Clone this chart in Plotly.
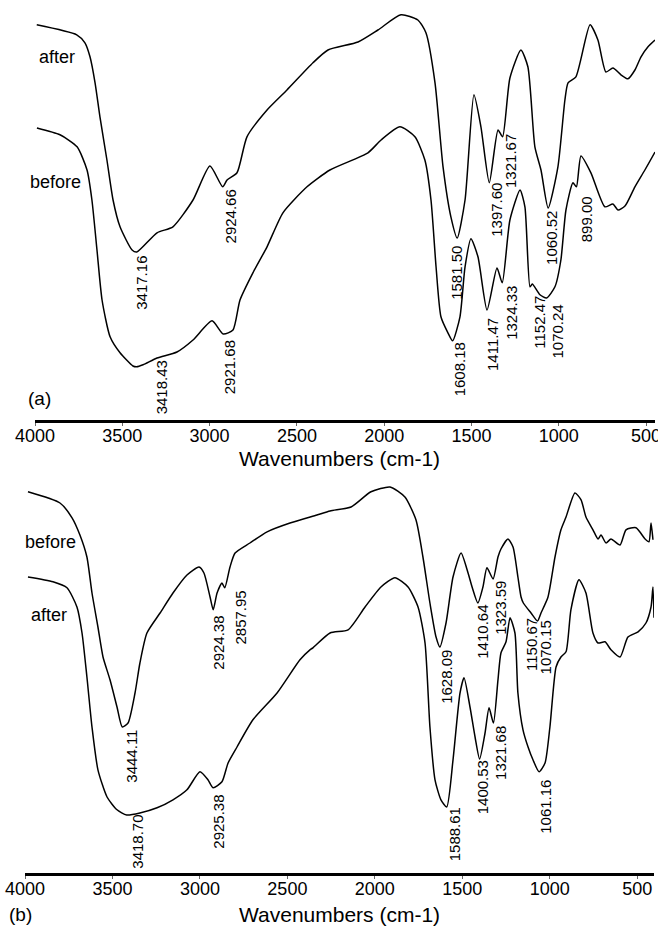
import numpy as np
import plotly.graph_objects as go

# ---------------- data (wavenumber cm-1, transmittance in arbitrary offset units) -------------
a_after_wn = [3990, 3761, 3714, 3685, 3656, 3628, 3588, 3553, 3513, 3444, 3417, 3301, 3210, 3095, 2998, 2925, 2900, 2843, 2786, 2671,
              2557, 2408, 2322, 2150, 2036, 1904, 1807, 1761, 1709, 1663, 1618, 1582, 1537, 1486, 1446, 1398, 1348, 1322, 1280, 1217,
              1177, 1137, 1102, 1061, 1005, 965, 947, 902, 821, 776, 730, 690, 644, 604, 564, 529, 489, 449]
a_after_T = [98.8, 96.3, 94.3, 90.8, 84.3, 75.8, 65.0, 55.0, 48.3, 42.5, 42.0, 46.8, 48.3, 55.0, 63.5, 58.3, 60.0, 61.8, 70.8, 77.5,
             82.5, 89.3, 92.5, 94.5, 97.5, 101.3, 100.0, 96.8, 84.3, 63.3, 50.8, 45.5, 55.0, 81.3, 73.3, 59.3, 72.5, 70.8, 85.5, 92.5,
             88.3, 68.3, 62.5, 53.0, 63.3, 80.0, 84.3, 85.8, 98.8, 95.0, 87.0, 88.0, 86.3, 85.3, 87.5, 90.8, 93.3, 95.0]

a_before_wn = [3989, 3857, 3759, 3702, 3674, 3645, 3616, 3570, 3513, 3439, 3418, 3381, 3301, 3187, 3095, 2986, 2922, 2866, 2826, 2752,
               2671, 2580, 2442, 2311, 2093, 2018, 1910, 1824, 1767, 1732, 1703, 1675, 1635, 1608, 1566, 1537, 1503, 1463, 1411, 1354,
               1324, 1280, 1222, 1194, 1165, 1152, 1108, 1070, 1022, 988, 959, 919, 899, 873, 816, 736, 690, 661, 621, 564,
               507, 449]
a_before_T = [73.0, 71.3, 68.3, 62.5, 55.0, 42.5, 30.0, 20.8, 16.8, 13.5, 13.3, 13.8, 15.5, 17.0, 20.0, 24.8, 21.5, 22.5, 30.0, 36.8,
              43.3, 51.8, 58.3, 62.5, 66.8, 70.0, 73.3, 70.8, 65.0, 55.0, 38.3, 25.8, 21.8, 19.8, 25.8, 38.3, 45.3, 40.8, 27.5, 38.0,
              34.3, 50.0, 57.5, 53.3, 33.3, 34.0, 31.3, 30.5, 33.3, 40.0, 52.5, 59.3, 58.3, 66.0, 61.8, 53.3, 54.0, 52.5, 53.5, 58.3,
              62.5, 67.0]

b_before_wn = [3983, 3800, 3731, 3686, 3646, 3617, 3583, 3554, 3514, 3474, 3444, 3411, 3371, 3343, 3303, 3228, 3154, 3074, 3005, 2977,
               2942, 2924, 2902, 2874, 2858, 2828, 2799, 2714, 2616, 2485, 2331, 2256, 2136, 2022, 1913, 1828, 1765, 1725, 1685, 1650,
               1628, 1593, 1553, 1507, 1467, 1444, 1411, 1382, 1359, 1324, 1296, 1279, 1239, 1210, 1182, 1164, 1151, 1107, 1070, 1050,
               1010, 970, 936, 907, 856, 821, 793, 753, 724, 707, 678, 650, 598, 564, 507, 455, 433, 421, 410]
b_before_T = [95.3, 92.5, 88.8, 84.5, 79.0, 70.0, 61.5, 54.0, 48.3, 41.5, 36.5, 37.5, 45.0, 52.5, 60.0, 65.0, 70.0, 74.5, 76.5, 75.0,
              69.0, 65.8, 70.0, 72.5, 71.3, 76.5, 80.0, 82.5, 85.3, 87.5, 89.5, 90.5, 91.5, 95.3, 96.5, 94.0, 88.3, 79.0, 67.5, 59.0,
              56.5, 62.5, 74.0, 80.0, 75.0, 71.5, 67.5, 71.5, 76.3, 73.5, 79.0, 81.0, 83.5, 81.5, 74.0, 69.0, 67.5, 65.0, 63.0, 65.0,
              69.0, 79.0, 85.8, 89.0, 95.0, 93.3, 89.0, 85.8, 83.5, 84.5, 82.5, 83.5, 82.0, 85.8, 86.3, 83.5, 82.8, 87.5, 83.3]

b_after_wn = [3983, 3840, 3760, 3703, 3674, 3646, 3617, 3583, 3531, 3474, 3419, 3343, 3245, 3154, 3074, 3000, 2954, 2925, 2874, 2839,
              2788, 2697, 2559, 2428, 2371, 2354, 2256, 2153, 2056, 1965, 1885, 1810, 1753, 1713, 1685, 1656, 1622, 1589, 1553, 1513,
              1490, 1456, 1427, 1401, 1370, 1347, 1322, 1296, 1279, 1250, 1227, 1199, 1182, 1153, 1124, 1096, 1061, 1027, 999, 964,
              936, 907, 879, 833, 793, 753, 724, 684, 650, 598, 553, 495, 450, 421, 410, 404]
b_after_T = [74.0, 72.8, 71.3, 66.5, 60.0, 49.0, 36.5, 25.8, 19.0, 15.8, 14.5, 15.0, 16.3, 18.3, 20.8, 25.3, 23.3, 21.3, 22.8, 27.5,
             31.5, 38.3, 45.0, 53.3, 55.8, 56.3, 60.0, 60.8, 66.5, 71.5, 73.8, 71.5, 66.5, 57.5, 36.5, 23.3, 18.3, 16.5, 28.3, 45.0,
             48.8, 41.5, 34.0, 28.5, 35.0, 41.3, 37.5, 48.3, 55.0, 57.8, 63.8, 60.0, 45.0, 35.8, 31.5, 28.3, 25.3, 27.5, 36.5, 51.5,
             54.0, 55.3, 65.8, 73.3, 70.0, 60.0, 57.5, 57.8, 55.8, 54.0, 59.0, 60.3, 62.5, 66.5, 71.5, 63.8]

a_after_peaks = ["3417.16", "2924.66", "1581.50", "1397.60", "1321.67", "1060.52"]
a_before_peaks = ["3418.43", "2921.68", "1608.18", "1411.47", "1324.33", "1152.47", "1070.24", "899.00"]
b_before_peaks = ["3444.11", "2924.38", "2857.95", "1628.09", "1410.64", "1323.59", "1150.67", "1070.15"]
b_after_peaks = ["3418.70", "2925.38", "1588.61", "1400.53", "1321.68", "1061.16"]

tick_vals = [4000, 3500, 3000, 2500, 2000, 1500, 1000, 500]
x_title = "Wavenumbers (cm-1)"

# ---------------- layout helpers (pixel offsets of peak labels: dx right, dy down) ----------------
a_after_off = [(5, 1), (8, 0), (-1, 5), (7, -3), (8, -5), (3, 0)]
a_before_off = [(25, -9), (7, 3), (7, -1), (5, 5), (9, 0), (7, 9), (11, 4), (10, 6)]
b_before_off = [(9, 0), (5, 3), (16, 0), (7, 0), (5, -1), (8, -1), (8, 12), (8, -4)]
b_after_off = [(11, -3), (6, 4), (8, -2), (3, -1), (7, 0), (7, 5)]

W, H = 658, 926
FONT = "Liberation Sans, Arial, sans-serif"

fig = go.Figure()
line = dict(color="black", width=1.5, shape="spline", smoothing=0.6)
for wn, T, xa, ya in [(a_after_wn, a_after_T, "x", "y"), (a_before_wn, a_before_T, "x", "y"),
                      (b_before_wn, b_before_T, "x2", "y2"), (b_after_wn, b_after_T, "x2", "y2")]:
    fig.add_trace(go.Scatter(x=wn, y=T, mode="lines", line=line, xaxis=xa, yaxis=ya,
                             showlegend=False, hoverinfo="skip"))

annotations = []
def add_peaks(labels, offs, wn, T, xref, yref):
    order = np.argsort(wn)
    xs = np.array(wn, float)[order]
    ys = np.array(T, float)[order]
    for lab, (dx, dy) in zip(labels, offs):
        v = float(lab)
        annotations.append(dict(x=v, y=float(np.interp(v, xs, ys)), xref=xref, yref=yref,
                                text=lab, showarrow=False, textangle=-90,
                                xanchor="center", yanchor="top", xshift=dx, yshift=-dy - 1,
                                font=dict(size=15, color="black", family=FONT)))

add_peaks(a_after_peaks, a_after_off, a_after_wn, a_after_T, "x", "y")
add_peaks(a_before_peaks, a_before_off, a_before_wn, a_before_T, "x", "y")
add_peaks(b_before_peaks, b_before_off, b_before_wn, b_before_T, "x2", "y2")
add_peaks(b_after_peaks, b_after_off, b_after_wn, b_after_T, "x2", "y2")

def paper_text(text, px, py, size, xanchor="left"):
    annotations.append(dict(x=px / W, y=1 - py / H, xref="paper", yref="paper", text=text,
                            showarrow=False, xanchor=xanchor, yanchor="middle",
                            font=dict(size=size, color="black", family=FONT)))

paper_text("after", 37, 57, 18)
paper_text("before", 28, 182, 18)
paper_text("(a)", 26, 398, 19)
paper_text("before", 23, 542, 18)
paper_text("after", 29, 615, 18)
paper_text("(b)", 7, 914, 19)
paper_text(x_title, 339, 458, 21, "center")
paper_text(x_title, 339, 914, 21, "center")

xcommon = dict(tickvals=tick_vals, ticktext=[str(t) for t in tick_vals], showgrid=False, zeroline=False,
               showline=True, linecolor="black", linewidth=3, ticks="outside", ticklen=3, tickwidth=1,
               tickcolor="#666", tickfont=dict(size=18, color="black", family=FONT),
               automargin=False, ticklabeloverflow="allow", ticklabelstandoff=-6)
ycommon = dict(showgrid=False, zeroline=False, showline=False, showticklabels=False, ticks="",
               automargin=False)

fig.update_layout(
    template="none",
    width=W, height=H, margin=dict(l=0, r=0, t=0, b=0, pad=0),
    paper_bgcolor="white", plot_bgcolor="white",
    xaxis=dict(domain=[35 / W, 655 / W], range=[4000, 449], anchor="y", **xcommon),
    yaxis=dict(domain=[1 - 420 / H, 1], range=[0, 105], anchor="x", **ycommon),
    xaxis2=dict(domain=[25 / W, 654 / W], range=[4000, 404], anchor="y2", **xcommon),
    yaxis2=dict(domain=[1 - 873 / H, 1 - 465 / H], range=[0, 102], anchor="x2", **ycommon),
    annotations=annotations,
)

fig.write_html("out.html")
